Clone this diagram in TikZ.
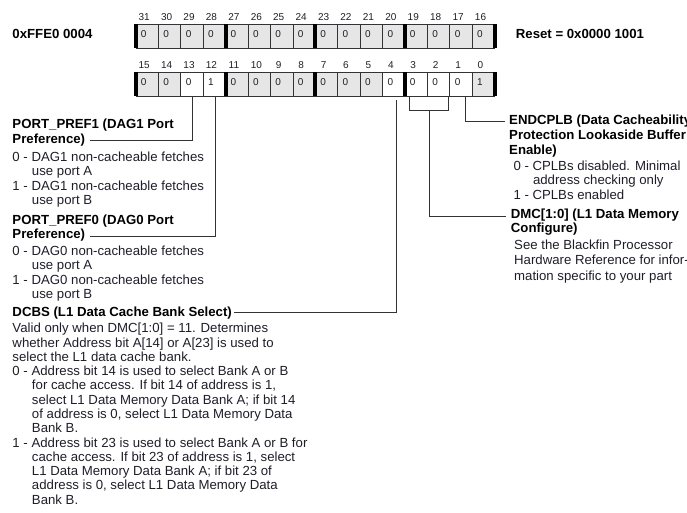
\documentclass[tikz,border=0pt]{standalone}
\usepackage{fontspec}
\setmainfont{Liberation Sans}
\usetikzlibrary{calc}
\definecolor{cellgray}{HTML}{E6E6E6}
\definecolor{txt}{HTML}{1E1E2A}
\definecolor{ln}{HTML}{333333}
\newcommand{\indline}{\hspace*{19.5pt}}
\begin{document}
\begin{tikzpicture}[x=1pt,y=-1pt,
  cell/.style={draw=ln, line width=0.8pt, minimum width=22.42pt, minimum height=24pt, inner sep=0pt, outer sep=0pt, anchor=north west},
  bitnum/.style={font=\fontsize{10}{11}\selectfont, text=txt, inner sep=0pt},
  val/.style={font=\fontsize{10}{11}\selectfont, text=txt, inner sep=0pt},
  ttl/.style={font=\bfseries\fontsize{13.2}{14.8}\selectfont, align=left, inner sep=0pt, anchor=north west},
  body/.style={font=\fontsize{13.2}{14.4}\selectfont, text=txt, align=left, inner sep=0pt, anchor=north west},
  conn/.style={draw=ln, line width=0.9pt}]
\useasboundingbox (0,0) rectangle (687,513);
% register cells
\foreach \bn/\fc/\vl in {31/cellgray/0,30/cellgray/0,29/cellgray/0,28/cellgray/0,27/cellgray/0,26/cellgray/0,25/cellgray/0,24/cellgray/0,23/cellgray/0,22/cellgray/0,21/cellgray/0,20/cellgray/0,19/cellgray/0,18/cellgray/0,17/cellgray/0,16/cellgray/0} {
  \pgfmathsetmacro\xl{136+(31-\bn)*22.42}
  \node[cell, fill=\fc] (b\bn) at (\xl,24) {};
  \node[val] (v\bn) at ($(b\bn.center)+(-3.5,-2)$) {\vl};
  \node[bitnum] (n\bn) at ($(b\bn.north)+(-3,-7.3)$) {\bn};
}
\foreach \bn/\fc/\vl in {15/cellgray/0,14/cellgray/0,13/white/0,12/white/1,11/cellgray/0,10/cellgray/0,9/cellgray/0,8/cellgray/0,7/cellgray/0,6/cellgray/0,5/cellgray/0,4/white/0,3/white/0,2/white/0,1/white/0,0/cellgray/1} {
  \pgfmathsetmacro\xl{136+(15-\bn)*22.42}
  \node[cell, fill=\fc] (b\bn) at (\xl,72) {};
  \node[val] (v\bn) at ($(b\bn.center)+(-3.5,-2)$) {\vl};
  \node[bitnum] (n\bn) at ($(b\bn.north)+(-3,-7)$) {\bn};
}
% thick nibble bars
\foreach \bn in {31,27,23,19,15,11,7,3}
  \fill[black] ($(b\bn.north west)+(-2,-0.4)$) rectangle ($(b\bn.south west)+(2,0.4)$);
\foreach \bn in {16,0}
  \fill[black] ($(b\bn.north east)+(-2,-0.4)$) rectangle ($(b\bn.south east)+(2,0.4)$);
% header texts
\node[ttl, anchor=west] (hex) at (12.3,33.8) {0xFFE0 0004};
\node[ttl, anchor=west] (reset) at (515.7,33.8) {Reset = 0x0000 1001};
% left descriptions
\node[ttl] (pp1t) at (12.3,118.7) {PORT\_PREF1 (DAG1 Port\\Preference)};
\node[body, font=\fontsize{13.2}{14.1}\selectfont] (pp1b) at (12.3,152.1) {0 - DAG1 non-cacheable fetches\\\indline use port A\\1 - DAG1 non-cacheable fetches\\\indline use port B};
\node[ttl] (pp0t) at (12.3,214.4) {PORT\_PREF0 (DAG0 Port\\Preference)};
\node[body, font=\fontsize{13.2}{14.6}\selectfont] (pp0b) at (12.3,245.4) {0 - DAG0 non-cacheable fetches\\\indline use port A\\1 - DAG0 non-cacheable fetches\\\indline use port B};
\node[ttl] (dcbst) at (12.3,306.4) {DCBS (L1 Data Cache Bank Select)};
\node[body, font=\fontsize{13.2}{14.28}\selectfont] (dcbsb) at (12.3,323.1) {Valid only when DMC[1:0] = 11. Determines\\whether Address bit A[14] or A[23] is used to\\select the L1 data cache bank.\\0 - Address bit 14 is used to select Bank A or B\\\indline for cache access. If bit 14 of address is 1,\\\indline select L1 Data Memory Data Bank A; if bit 14\\\indline of address is 0, select L1 Data Memory Data\\\indline Bank B.\\1 - Address bit 23 is used to select Bank A or B for\\\indline cache access. If bit 23 of address is 1, select\\\indline L1 Data Memory Data Bank A; if bit 23 of\\\indline address is 0, select L1 Data Memory Data\\\indline Bank B.};
% right descriptions
\node[ttl, font=\bfseries\fontsize{13.2}{15}\selectfont] (endt) at (509,114.4) {ENDCPLB (Data Cacheability\\Protection Lookaside Buffer\\Enable)};
\node[body, font=\fontsize{13.2}{14.6}\selectfont] (endb) at (513.3,160.4) {0 - CPLBs disabled. Minimal\\\indline address checking only\\1 - CPLBs enabled};
\node[ttl, font=\bfseries\fontsize{13.2}{14.4}\selectfont] (dmct) at (510.7,208.7) {DMC[1:0] (L1 Data Memory\\Configure)};
\node[body, font=\fontsize{13.2}{15.3}\selectfont] (dmcb) at (514,239.7) {See the Blackfin Processor\\Hardware Reference for infor-\\mation specific to your part};
% connector ends
\coordinate (pp1end) at (90,140);
\coordinate (pp0end) at (90,236.7);
\coordinate (dcbsend) at (234,312);
\coordinate (endcend) at (505,121);
\coordinate (dmcend) at (506,216);
% connectors
\draw[conn] ([xshift=0.6pt]b13.south) |- (pp1end);
\draw[conn] ([xshift=1.2pt]b12.south) |- (pp0end);
\draw[conn] ([xshift=2.2pt,yshift=-4pt]b4.south) |- (dcbsend);
\draw[conn] ([xshift=4pt,yshift=-1.5pt]b3.south west) -- ++(0,12.5) -| ([xshift=-1.6pt,yshift=-1.5pt]b2.south east);
\draw[conn] ([xshift=1.8pt]b2.south west) ++(0,14) |- (dmcend);
\draw[conn] ([xshift=4.6pt,yshift=-1pt]b1.south) |- (endcend);
\end{tikzpicture}
\end{document}
